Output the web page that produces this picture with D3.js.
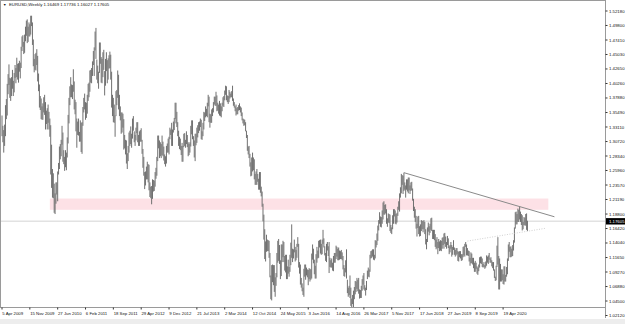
<!DOCTYPE html>
<html>
<head>
<meta charset="UTF-8">
<title>EURUSD, Weekly</title>
<style>
    body { margin: 0; background: #fff; }
    svg text { font-family: "Liberation Sans", Arial, sans-serif; }
</style>
</head>
<body>
<div id="chart"></div>

<script src="https://d3js.org/d3.v7.min.js"></script>
<script>
// weekly bars, first bar is the week of 5 Apr 2009, last one the week of 1 Nov 2020
var lows = [
    // 2009
    1.316,1.306,1.289,1.300,1.316,1.344,1.350,1.385,1.400,1.379,1.374,1.382,1.394,1.382,1.388,1.412,1.403,1.413,1.409,1.404,1.422,1.411,1.428,1.456,1.463,1.451,1.453,1.472,1.481,1.469,1.471,1.480,1.480,1.483,1.497,1.466,1.431,1.421,1.425,
    // 2010
    1.424,1.433,1.406,1.390,1.363,1.359,1.344,1.343,1.343,1.355,1.351,1.327,1.336,1.327,1.338,1.327,1.315,1.253,1.231,1.215,1.214,1.190,1.188,1.205,1.220,1.209,1.253,1.262,1.278,1.283,1.302,1.274,1.270,1.259,1.265,1.260,1.281,1.304,1.337,1.367,1.380,1.380,1.377,1.389,1.360,1.352,1.324,1.297,1.318,1.317,1.307,1.307,
    // 2011
    1.290,1.287,1.333,1.355,1.360,1.343,1.346,1.353,1.374,1.380,1.389,1.404,1.403,1.415,1.433,1.415,1.457,1.443,1.409,1.403,1.394,1.420,1.435,1.404,1.403,1.413,1.425,1.383,1.399,1.423,1.403,1.409,1.427,1.428,1.409,1.363,1.349,1.339,1.338,1.315,1.349,1.367,1.379,1.360,1.349,1.342,1.320,1.322,1.330,1.294,1.296,1.286,
    // 2012
    1.271,1.262,1.275,1.289,1.300,1.303,1.297,1.312,1.325,1.306,1.300,1.309,1.321,1.306,1.300,1.300,1.307,1.307,1.287,1.264,1.251,1.229,1.235,1.245,1.245,1.240,1.227,1.216,1.214,1.204,1.213,1.225,1.226,1.233,1.246,1.251,1.275,1.296,1.280,1.283,1.280,1.285,1.283,1.276,1.270,1.266,1.271,1.289,1.289,1.286,1.311,1.318,1.300,
    // 2013
    1.300,1.322,1.326,1.344,1.337,1.331,1.316,1.300,1.295,1.293,1.285,1.274,1.274,1.298,1.300,1.297,1.303,1.298,1.283,1.285,1.289,1.299,1.319,1.311,1.300,1.281,1.275,1.301,1.305,1.314,1.321,1.325,1.331,1.311,1.310,1.316,1.327,1.341,1.347,1.349,1.347,1.365,1.339,1.330,1.338,1.338,1.349,1.355,1.368,1.366,1.366,1.357,
    // 2014
    1.358,1.353,1.350,1.349,1.347,1.357,1.366,1.364,1.375,1.384,1.375,1.372,1.369,1.372,1.378,1.380,1.380,1.374,1.366,1.363,1.357,1.350,1.352,1.352,1.358,1.359,1.355,1.349,1.342,1.337,1.333,1.334,1.324,1.313,1.292,1.286,1.280,1.266,1.250,1.251,1.258,1.260,1.245,1.236,1.236,1.236,1.241,1.228,1.228,1.223,1.217,1.200,
    // 2015
    1.176,1.146,1.114,1.110,1.126,1.127,1.127,1.116,1.084,1.048,1.046,1.076,1.071,1.060,1.052,1.070,1.084,1.108,1.111,1.106,1.081,1.086,1.109,1.117,1.109,1.095,1.092,1.081,1.081,1.090,1.085,1.093,1.104,1.116,1.109,1.115,1.125,1.110,1.112,1.116,1.134,1.100,1.090,1.072,1.067,1.061,1.055,1.052,1.085,1.080,1.087,1.084,
    // 2016
    1.071,1.081,1.077,1.080,1.082,1.113,1.107,1.089,1.082,1.082,1.108,1.115,1.116,1.133,1.123,1.121,1.122,1.139,1.133,1.120,1.111,1.109,1.128,1.119,1.091,1.101,1.100,1.100,1.095,1.094,1.108,1.108,1.114,1.118,1.112,1.112,1.113,1.114,1.114,1.112,1.097,1.086,1.085,1.092,1.082,1.058,1.052,1.055,1.050,1.037,1.035,1.040,
    // 2017
    1.034,1.048,1.056,1.060,1.065,1.061,1.057,1.049,1.050,1.050,1.062,1.072,1.064,1.062,1.054,1.063,1.081,1.085,1.084,1.093,1.115,1.116,1.118,1.113,1.112,1.115,1.133,1.137,1.144,1.161,1.172,1.167,1.166,1.172,1.179,1.187,1.187,1.189,1.172,1.167,1.174,1.173,1.160,1.157,1.155,1.163,1.172,1.184,1.172,1.171,1.174,1.185,
    // 2018
    1.195,1.192,1.215,1.222,1.236,1.221,1.226,1.228,1.215,1.228,1.225,1.222,1.227,1.221,1.226,1.227,1.210,1.193,1.182,1.175,1.164,1.151,1.165,1.155,1.151,1.152,1.160,1.163,1.158,1.163,1.155,1.138,1.130,1.142,1.159,1.153,1.157,1.162,1.160,1.147,1.147,1.145,1.134,1.130,1.132,1.122,1.132,1.127,1.128,1.127,1.131,1.137,
    // 2019
    1.131,1.139,1.134,1.131,1.137,1.132,1.122,1.125,1.131,1.118,1.121,1.129,1.121,1.118,1.120,1.122,1.111,1.110,1.117,1.115,1.111,1.112,1.117,1.120,1.118,1.134,1.120,1.120,1.119,1.110,1.103,1.107,1.107,1.105,1.099,1.093,1.093,1.098,1.090,1.088,1.094,1.100,1.107,1.106,1.101,1.100,1.101,1.098,1.100,1.103,1.108,1.106,
    // 2020
    1.113,1.108,1.108,1.102,1.099,1.095,1.083,1.078,1.079,1.101,1.105,1.064,1.064,1.077,1.077,1.079,1.073,1.072,1.077,1.077,1.085,1.089,1.111,1.126,1.117,1.117,1.118,1.119,1.128,1.141,1.164,1.171,1.171,1.175,1.175,1.179,1.175,1.170,1.161,1.163,1.170,1.169,1.169,1.162,1.160
];

var highs = [
    // 2009
    1.350,1.333,1.326,1.335,1.367,1.377,1.402,1.418,1.434,1.412,1.411,1.413,1.425,1.407,1.420,1.433,1.428,1.445,1.435,1.436,1.440,1.437,1.463,1.480,1.482,1.471,1.483,1.496,1.506,1.508,1.496,1.503,1.500,1.514,1.514,1.503,1.475,1.443,1.451,
    // 2010
    1.453,1.459,1.448,1.419,1.401,1.382,1.378,1.365,1.370,1.380,1.384,1.372,1.358,1.362,1.368,1.356,1.345,1.334,1.302,1.262,1.255,1.238,1.222,1.240,1.240,1.258,1.272,1.299,1.303,1.310,1.333,1.322,1.293,1.282,1.293,1.289,1.314,1.351,1.379,1.398,1.413,1.401,1.400,1.426,1.406,1.376,1.372,1.345,1.340,1.345,1.323,1.342,
    // 2011
    1.338,1.339,1.364,1.379,1.386,1.372,1.371,1.384,1.402,1.404,1.424,1.425,1.428,1.439,1.456,1.462,1.488,1.494,1.442,1.432,1.422,1.470,1.470,1.446,1.443,1.454,1.458,1.423,1.443,1.454,1.441,1.444,1.449,1.455,1.450,1.422,1.384,1.379,1.368,1.350,1.390,1.392,1.424,1.417,1.384,1.365,1.355,1.355,1.353,1.344,1.318,1.310,
    // 2012
    1.309,1.288,1.300,1.322,1.325,1.332,1.320,1.345,1.349,1.324,1.318,1.330,1.339,1.339,1.318,1.324,1.326,1.329,1.310,1.295,1.282,1.257,1.258,1.266,1.274,1.270,1.269,1.240,1.233,1.234,1.245,1.244,1.243,1.257,1.264,1.282,1.317,1.317,1.309,1.306,1.303,1.317,1.307,1.299,1.286,1.283,1.300,1.304,1.312,1.315,1.330,1.327,1.338,
    // 2013
    1.327,1.340,1.346,1.371,1.371,1.356,1.339,1.325,1.315,1.312,1.300,1.305,1.300,1.320,1.321,1.310,1.324,1.318,1.306,1.303,1.306,1.333,1.342,1.342,1.316,1.309,1.320,1.320,1.330,1.334,1.339,1.340,1.345,1.343,1.324,1.338,1.356,1.355,1.365,1.361,1.371,1.384,1.381,1.353,1.352,1.360,1.362,1.372,1.381,1.381,1.389,1.383,
    // 2014
    1.371,1.368,1.374,1.370,1.365,1.371,1.380,1.382,1.391,1.399,1.398,1.383,1.382,1.392,1.389,1.386,1.390,1.399,1.378,1.372,1.365,1.368,1.362,1.364,1.367,1.370,1.365,1.363,1.355,1.345,1.344,1.343,1.339,1.325,1.318,1.299,1.300,1.287,1.273,1.281,1.289,1.281,1.278,1.254,1.258,1.262,1.254,1.246,1.257,1.257,1.233,1.225,
    // 2015
    1.205,1.187,1.163,1.143,1.154,1.146,1.145,1.144,1.124,1.087,1.104,1.105,1.104,1.104,1.084,1.091,1.124,1.144,1.147,1.137,1.112,1.138,1.138,1.144,1.142,1.119,1.121,1.121,1.102,1.113,1.101,1.121,1.141,1.171,1.131,1.130,1.146,1.134,1.129,1.139,1.150,1.139,1.109,1.105,1.083,1.074,1.067,1.098,1.105,1.105,1.100,1.097,
    // 2016
    1.096,1.099,1.098,1.097,1.123,1.138,1.131,1.113,1.103,1.122,1.134,1.128,1.144,1.145,1.146,1.139,1.146,1.162,1.148,1.135,1.124,1.139,1.142,1.135,1.142,1.116,1.112,1.115,1.108,1.119,1.124,1.124,1.136,1.134,1.131,1.133,1.128,1.127,1.129,1.125,1.119,1.104,1.099,1.112,1.130,1.080,1.067,1.070,1.087,1.067,1.049,1.055,
    // 2017
    1.062,1.068,1.078,1.077,1.083,1.080,1.083,1.064,1.063,1.070,1.081,1.087,1.091,1.071,1.067,1.078,1.095,1.100,1.097,1.121,1.127,1.128,1.130,1.130,1.121,1.145,1.144,1.156,1.169,1.178,1.191,1.184,1.183,1.194,1.207,1.209,1.203,1.204,1.196,1.181,1.189,1.188,1.187,1.170,1.166,1.186,1.196,1.196,1.194,1.188,1.190,1.200,
    // 2018
    1.209,1.222,1.232,1.254,1.252,1.251,1.256,1.240,1.235,1.245,1.245,1.248,1.248,1.235,1.240,1.241,1.230,1.213,1.200,1.196,1.185,1.172,1.184,1.185,1.168,1.171,1.178,1.177,1.176,1.178,1.175,1.163,1.147,1.166,1.174,1.168,1.172,1.181,1.182,1.162,1.162,1.162,1.155,1.146,1.150,1.142,1.147,1.143,1.145,1.144,1.149,1.150,
    // 2019
    1.156,1.157,1.151,1.142,1.152,1.148,1.135,1.137,1.142,1.137,1.134,1.145,1.133,1.129,1.132,1.132,1.127,1.126,1.127,1.127,1.122,1.122,1.134,1.135,1.139,1.142,1.138,1.132,1.128,1.127,1.116,1.125,1.123,1.116,1.116,1.108,1.111,1.108,1.102,1.100,1.105,1.117,1.118,1.118,1.115,1.106,1.109,1.104,1.110,1.120,1.118,1.120,
    // 2020
    1.124,1.115,1.117,1.112,1.109,1.109,1.097,1.085,1.103,1.136,1.150,1.119,1.115,1.106,1.097,1.097,1.089,1.102,1.102,1.088,1.101,1.115,1.138,1.142,1.134,1.135,1.131,1.137,1.145,1.166,1.191,1.192,1.188,1.197,1.195,1.201,1.192,1.188,1.186,1.175,1.183,1.182,1.188,1.189,1.177
];

// price scale labels (right side)
var priceLabels = [1.52180, 1.49800, 1.47410, 1.45030, 1.42650, 1.40260, 1.37880, 1.35490,
    1.33110, 1.30720, 1.28340, 1.25960, 1.23570, 1.21190, 1.18800, 1.16420,
    1.14040, 1.11650, 1.09270, 1.06880, 1.04500, 1.02120];

// time scale labels, one every 32 bars
var dateLabels = ["5 Apr 2009", "15 Nov 2009", "27 Jun 2010", "6 Feb 2011", "18 Sep 2011",
    "29 Apr 2012", "9 Dec 2012", "21 Jul 2013", "2 Mar 2014", "12 Oct 2014", "24 May 2015",
    "3 Jan 2016", "14 Aug 2016", "26 Mar 2017", "5 Nov 2017", "17 Jun 2018", "27 Jan 2019",
    "8 Sep 2019", "19 Apr 2020"];
var labelStep = 32;

var lastPrice = 1.17605;
var titleText = "EURUSD,Weekly  1.16469 1.17736 1.16027 1.17605";

// drawn objects: pink zone, trend line, dotted line (bar index / price)
var zoneWeeks = [55, 628];
var zonePrices = [1.1950, 1.2135];
var trendWeeks = [462, 635];
var trendPrices = [1.2560, 1.1835];
var dotWeeks = [535, 624];
var dotPrices = [1.1436, 1.1644];


var width = 625,
    height = 324,
    plotRight = 605.5,
    plotBottom = 307.5;

var svg = d3.select("#chart")
    .append("svg")
    .attr("width", width)
    .attr("height", height);

var x = d3.scaleLinear()
    .domain([0, labelStep * (dateLabels.length - 1)])
    .range([2, 503.1]);

var y = d3.scaleLinear()
    .domain([priceLabels[0], priceLabels[priceLabels.length - 1]])
    .range([11, 315.5]);

svg.append("clipPath")
    .attr("id", "plot")
    .append("rect")
    .attr("x", 0)
    .attr("y", 0)
    .attr("width", plotRight)
    .attr("height", plotBottom);

var plot = svg.append("g").attr("clip-path", "url(#plot)");

// support zone
plot.append("rect")
    .attr("x", x(zoneWeeks[0]))
    .attr("y", y(zonePrices[1]))
    .attr("width", x(zoneWeeks[1]) - x(zoneWeeks[0]))
    .attr("height", y(zonePrices[0]) - y(zonePrices[1]))
    .style("fill", "#fde1e6");

// last price line
plot.append("line")
    .attr("x1", 0)
    .attr("x2", plotRight)
    .attr("y1", y(lastPrice))
    .attr("y2", y(lastPrice))
    .style("stroke", "#e2e2e2")
    .style("stroke-width", 1.6);

// the bars
plot.selectAll("line.bar")
    .data(lows)
    .enter()
    .append("line")
    .attr("class", "bar")
    .attr("x1", function (d, i) { return x(i); })
    .attr("x2", function (d, i) { return x(i); })
    .attr("y1", function (d) { return y(d); })
    .attr("y2", function (d, i) { return y(highs[i]); })
    .style("stroke", "#707070")
    .style("stroke-width", 1);

// trend line
plot.append("line")
    .attr("x1", x(trendWeeks[0]))
    .attr("y1", y(trendPrices[0]))
    .attr("x2", x(trendWeeks[1]))
    .attr("y2", y(trendPrices[1]))
    .style("stroke", "#8a8a8a")
    .style("stroke-width", 1);

plot.append("line")
    .attr("x1", x(dotWeeks[0]))
    .attr("y1", y(dotPrices[0]))
    .attr("x2", x(dotWeeks[1]))
    .attr("y2", y(dotPrices[1]))
    .style("stroke", "#c4c4c4")
    .style("stroke-width", 0.8)
    .style("stroke-dasharray", "1,1.5");

// frame
svg.append("rect")
    .attr("x", 0.5)
    .attr("y", 0.5)
    .attr("width", plotRight - 0.5)
    .attr("height", plotBottom - 0.5)
    .style("fill", "none")
    .style("stroke", "#9a9a9a")
    .style("stroke-width", 1);

svg.append("line")
    .attr("x1", plotRight)
    .attr("x2", plotRight)
    .attr("y1", 0)
    .attr("y2", 318)
    .style("stroke", "#9a9a9a");

// bottom status strip
svg.append("rect")
    .attr("x", 0)
    .attr("y", 319)
    .attr("width", width)
    .attr("height", 5)
    .style("fill", "#ededed");

// price axis
var yAxis = svg.append("g");
priceLabels.forEach(function (p) {
    yAxis.append("line")
        .attr("x1", plotRight)
        .attr("x2", plotRight + 2)
        .attr("y1", y(p))
        .attr("y2", y(p))
        .style("stroke", "#333");
    yAxis.append("text")
        .attr("x", plotRight + 3.5)
        .attr("y", y(p))
        .attr("dy", "0.35em")
        .style("font-size", "4.3px")
        .style("fill", "#111")
        .text(p.toFixed(5));
});

yAxis.append("rect")
    .attr("x", plotRight + 0.5)
    .attr("y", y(lastPrice) - 3.2)
    .attr("width", 19)
    .attr("height", 6.4)
    .style("fill", "#000");

yAxis.append("text")
    .attr("x", plotRight + 3.5)
    .attr("y", y(lastPrice))
    .attr("dy", "0.35em")
    .style("font-size", "4.3px")
    .style("fill", "#fff")
    .text(lastPrice.toFixed(5));

// time axis
var xAxis = svg.append("g");
dateLabels.forEach(function (lbl, k) {
    var px = x(k * labelStep);
    xAxis.append("line")
        .attr("x1", px)
        .attr("x2", px)
        .attr("y1", plotBottom)
        .attr("y2", plotBottom + 2)
        .style("stroke", "#333");
    xAxis.append("text")
        .attr("x", px + 0.3)
        .attr("y", 315)
        .style("font-size", "4.3px")
        .style("fill", "#111")
        .text(lbl);
});

// title
svg.append("text")
    .attr("x", 3)
    .attr("y", 6.3)
    .style("font-size", "3.5px")
    .style("fill", "#111")
    .text("\u25BC");

svg.append("text")
    .attr("x", 9)
    .attr("y", 6.3)
    .style("font-size", "4.3px")
    .style("fill", "#111")
    .text(titleText);

</script>
</body>
</html>
